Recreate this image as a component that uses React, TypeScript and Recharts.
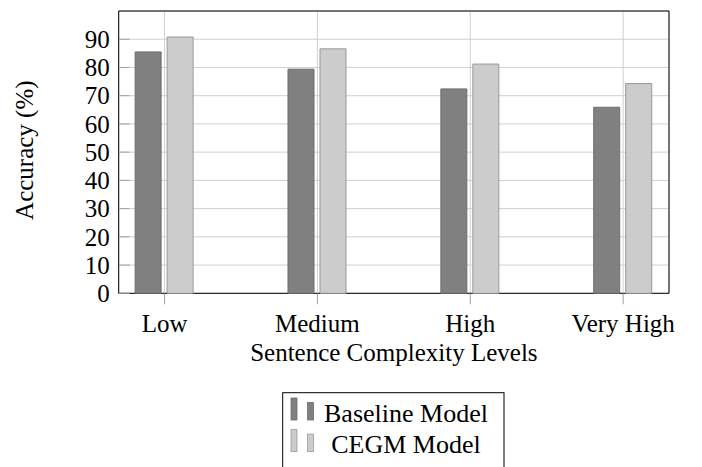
import { BarChart, Bar, XAxis, YAxis, CartesianGrid, ReferenceArea, Label } from "recharts";

const categories = ["Low", "Medium", "High", "Very High"];
const baselineValues = [85.5, 79.4, 72.4, 65.9];
const cegmValues = [90.8, 86.6, 81.2, 74.3];
const yTicks = [0, 10, 20, 30, 40, 50, 60, 70, 80, 90];
const xTicks = [0, 1, 2, 3];

const series = [
  { key: "baseline", name: "Baseline Model", fill: "#808080", stroke: "#6e6e6e" },
  { key: "cegm", name: "CEGM Model", fill: "#cccccc", stroke: "#999999" },
];

const data = categories.map((c, i) => ({
  x: i,
  name: c,
  baseline: baselineValues[i],
  cegm: cegmValues[i],
}));

const FONT = "Liberation Serif";

const LeftTick = (props: any) => {
  const { x, y, payload } = props;
  return (
    <g>
      <line x1={x} x2={x + 11} y1={y} y2={y} stroke="#a0a0a0" />
      <text x={x - 9} y={y} dy="0.35em" textAnchor="end" fontFamily={FONT} fontSize={25} fill="#000">
        {payload.value}
      </text>
    </g>
  );
};

const RightTick = (props: any) => {
  const { x, y } = props;
  return <line x1={x - 11} x2={x} y1={y} y2={y} stroke="#a0a0a0" />;
};

const Legend = () => (
  <svg width={702} height={467} style={{ position: "absolute", left: 0, top: 0, pointerEvents: "none" }}>
    <rect x={282.7} y={392.7} width={221.3} height={90} fill="#fff" stroke="#000" />
    {series.map((s, i) => {
      const base = 420 + i * 31.6;
      return (
        <g key={s.key}>
          <rect x={291} y={base - 22} width={6} height={22} fill={s.fill} stroke={s.stroke} strokeWidth={0.8} />
          <rect x={307.5} y={base - 17.5} width={6} height={17.5} fill={s.fill} stroke={s.stroke} strokeWidth={0.8} />
          <text x={406} y={base + 1.7} textAnchor="middle" fontFamily={FONT} fontSize={26} fill="#000">
            {s.name}
          </text>
        </g>
      );
    })}
  </svg>
);

export default function App() {
  return (
    <div style={{ position: "absolute", left: 0, top: 0, width: 702, height: 467, overflow: "hidden", background: "#fff" }}>
      <BarChart
        width={702}
        height={467}
        data={data}
        margin={{ top: 11, right: 33, bottom: 123.7, left: 0 }}
        barSize={26}
        barGap={6}
      >
        <CartesianGrid stroke="#d0d0d0" />
        <XAxis
          dataKey="x"
          type="number"
          domain={[-0.3, 3.3]}
          ticks={xTicks}
          height={50}
          axisLine={false}
          tickSize={11}
          tickMargin={10}
          tickLine={{ stroke: "#a0a0a0" }}
          tickFormatter={(v: number) => categories[v]}
          tick={{ fontFamily: FONT, fontSize: 25, fill: "#000" }}
          interval={0}
        >
          <Label
            content={(p: any) => {
              const vb = p.viewBox;
              return (
                <text x={vb.x + vb.width / 2} y={361} textAnchor="middle" fontFamily={FONT} fontSize={25} fill="#000">
                  Sentence Complexity Levels
                </text>
              );
            }}
          />
        </XAxis>
        <XAxis
          xAxisId="top"
          orientation="top"
          type="number"
          domain={[-0.3, 3.3]}
          ticks={xTicks}
          height={0}
          axisLine={false}
          tickSize={11}
          tickLine={{ stroke: "#b0b0b0" }}
          tickFormatter={() => ""}
        />
        <YAxis
          type="number"
          domain={[0, 100]}
          ticks={yTicks}
          width={118.7}
          axisLine={false}
          tickLine={false}
          tickSize={0}
          tickMargin={0}
          tick={LeftTick}
          interval={0}
        >
          <Label
            content={(p: any) => {
              const vb = p.viewBox;
              const cy = vb.y + vb.height / 2 - 2;
              return (
                <text
                  x={33}
                  y={cy}
                  transform={`rotate(-90, 33, ${cy})`}
                  textAnchor="middle"
                  fontFamily={FONT}
                  fontSize={25}
                  fill="#000"
                >
                  Accuracy (%)
                </text>
              );
            }}
          />
        </YAxis>
        <YAxis
          yAxisId="r"
          orientation="right"
          type="number"
          domain={[0, 100]}
          ticks={yTicks}
          width={0}
          axisLine={false}
          tickLine={false}
          tickSize={0}
          tickMargin={0}
          tick={RightTick}
          interval={0}
        />
        {series.map((s) => (
          <Bar
            key={s.key}
            dataKey={s.key}
            name={s.name}
            fill={s.fill}
            stroke={s.stroke}
            strokeWidth={1}
            isAnimationActive={false}
          />
        ))}
        <ReferenceArea x1={-0.3} x2={3.3} y1={0} y2={100} fill="none" stroke="#000" strokeWidth={1} fillOpacity={0} />
      </BarChart>
      <Legend />
    </div>
  );
}
